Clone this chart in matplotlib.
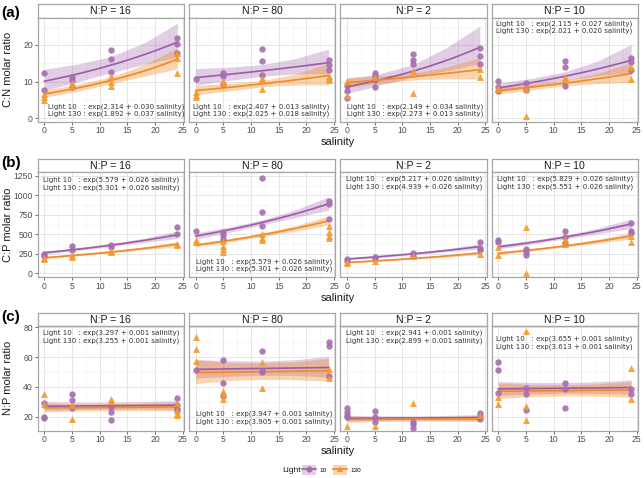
import matplotlib.pyplot as plt
import numpy as np
from matplotlib.patches import Patch
from matplotlib.lines import Line2D

# ---- data ----
salinity = [0, 5, 12, 24]
np_levels = [16, 80, 2, 10]
band_x = [0, 6, 12, 18, 24]

# (a) C:N molar ratio, values per salinity level
cn_l10_np16 = [[12.3, 7.8], [11.4, 10.4, 8.6], [18.5, 16.1, 12.7], [21.9, 20.4, 17.9]]
cn_l130_np16 = [[6.6, 5.8, 5.1], [9.5, 8.7], [11.5, 10.0, 8.9], [17.9, 16.4, 12.4]]
cn_l10_np80 = [[10.6], [12.4, 11.5, 9.3], [19.0, 15.6, 11.8], [15.9, 14.6, 13.2]]
cn_l130_np80 = [[7.1, 6.4, 5.9], [10.2, 9.5], [11.0, 10.5, 8.1], [11.5, 10.9, 10.4]]
cn_l10_np2 = [[8.7, 7.5, 5.6], [12.4, 11.5, 10.4, 8.6], [17.5, 15.9, 14.8], [19.1, 17.0, 14.7]]
cn_l130_np2 = [[10.3, 6.2], [11.2], [13.0, 6.8], [13.4, 11.4]]
cn_l10_np10 = [[10.2, 8.6, 7.4], [9.7, 7.7], [15.6, 13.9, 8.9], [16.5, 15.4, 13.2]]
cn_l130_np10 = [[8.2, 8.0], [8.0, 0.7], [11.2, 10.8], [14.0, 10.6]]

# (b) C:P molar ratio
cp_l10_np16 = [[248, 225], [346, 295], [365, 335], [590, 505]]
cp_l130_np16 = [[180, 200], [210, 240], [290, 278], [380, 368]]
cp_l10_np80 = [[547], [534, 491, 440], [1230, 781, 602], [931, 888, 696]]
cp_l130_np80 = [[427, 406], [418, 354, 312, 278], [504, 453, 431], [602, 525, 482, 453]]
cp_l10_np2 = [[184, 158], [214, 200], [260, 226], [406, 320, 295]]
cp_l130_np2 = [[132, 140], [158], [218], [248]]
cp_l10_np10 = [[431, 397], [312, 269, 235], [538, 461, 389], [645, 547, 517]]
cp_l130_np10 = [[333, 235], [589, 4], [440, 376], [482, 397]]

# (c) N:P molar ratio
npr_l10_np16 = [[29.4, 20.0, 19.1], [35.1, 31.0, 26.1], [26.7, 23.1, 17.8], [32.8, 27.6, 25.4, 24.5]]
npr_l130_np16 = [[35.1, 28.3], [27.9, 18.2], [31.7, 30.3], [29.0, 24.5, 22.7, 21.3]]
npr_l10_np80 = [[51.5], [58.2, 42.9, 33.9], [64.0, 50.8, 49.7], [70.3, 67.2, 47.4]]
npr_l130_np80 = [[73.3, 65.4, 57.5], [37.3, 35.1, 31.7], [56.4, 39.6], [51.9, 46.3]]
npr_l10_np2 = [[26.1, 23.1, 20.9, 20.0], [23.8, 20.0, 16.4], [16.4, 14.8, 12.6], [22.2, 20.4, 18.2]]
npr_l130_np2 = [[13.7], [13.7], [29.4], [21.3]]
npr_l10_np10 = [[56.9, 51.5, 36.2], [39.6, 35.1, 24.5], [42.5, 38.4, 26.1], [38.9, 35.1]]
npr_l130_np10 = [[33.5, 28.3], [77.8, 27.2, 17.8], [], [53.0, 31.7]]

# coefficients printed in the panels (intercept, slope)
cn_coef_l10 = [(2.314, 0.030), (2.407, 0.013), (2.149, 0.034), (2.115, 0.027)]
cn_coef_l130 = [(1.892, 0.037), (2.025, 0.018), (2.273, 0.013), (2.021, 0.020)]
cp_coef_l10 = [(5.579, 0.026), (5.579, 0.026), (5.217, 0.026), (5.829, 0.026)]
cp_coef_l130 = [(5.301, 0.026), (5.301, 0.026), (4.939, 0.026), (5.551, 0.026)]
npr_coef_l10 = [(3.297, 0.001), (3.947, 0.001), (2.941, 0.001), (3.655, 0.001)]
npr_coef_l130 = [(3.255, 0.001), (3.905, 0.001), (2.899, 0.001), (3.613, 0.001)]

# drawn curves (C:P N:P=80 panel shows a different curve than its label)
cp_line_l10 = [(5.579, 0.026), (6.17, 0.026), (5.217, 0.026), (5.829, 0.026)]
cp_line_l130 = [(5.301, 0.026), (5.89, 0.026), (4.939, 0.026), (5.551, 0.026)]

# ribbon half widths (log scale) at band_x
cn_w_l10 = [[0.28, 0.2, 0.15, 0.17, 0.22], [0.2, 0.15, 0.12, 0.15, 0.22],
            [0.23, 0.15, 0.13, 0.2, 0.26], [0.15, 0.11, 0.1, 0.15, 0.24]]
cn_w_l130 = [[0.15, 0.11, 0.09, 0.12, 0.18], [0.17, 0.12, 0.09, 0.14, 0.25],
             [0.14, 0.1, 0.08, 0.13, 0.22], [0.13, 0.09, 0.08, 0.13, 0.22]]
cp_w_l10 = [[0.08, 0.06, 0.05, 0.065, 0.095]] * 4
cp_w_l130 = [[0.07, 0.05, 0.045, 0.06, 0.085]] * 4
npr_w_l10 = [[0.11, 0.09, 0.085, 0.09, 0.11], [0.12, 0.1, 0.09, 0.1, 0.13],
             [0.1, 0.08, 0.07, 0.08, 0.1], [0.12, 0.1, 0.09, 0.1, 0.12]]
npr_w_l130 = [[0.11, 0.09, 0.085, 0.09, 0.11], [0.16, 0.12, 0.11, 0.12, 0.15],
              [0.11, 0.09, 0.08, 0.09, 0.11], [0.14, 0.11, 0.1, 0.11, 0.14]]

# ---- layout (pixels) ----
W, H = 644, 478
col_left = [37.7, 189.0, 340.3, 491.6]
panel_w = 146.2
row_top = [17.5, 172.3, 326.0]
row_bot = [121.6, 277.3, 430.7]
label_y = [12.5, 163.5, 317.5]
strip_h = 13.5
ann_pos = [[(48.3, 106.5), (193.3, 106.5), (347.3, 106.5), (496.3, 23.3)],
           [(42.7, 179.7), (195.7, 261.3), (345.7, 179.0), (497.3, 179.0)],
           [(42.7, 332.7), (195.7, 413.7), (345.7, 332.7), (495.7, 338.7)]]

purple = '#9C5BA8'
purple_pt = '#A66DB0'
orange = '#F08A24'
orange_pt = '#F39A2E'
grid_c = '#E6E6E6'
border_c = '#A6A6A6'

plt.rcParams['font.family'] = ['Liberation Sans', 'DejaVu Sans']


def box(l, t, r, b):
    return [l / W, 1 - b / H, (r - l) / W, (b - t) / H]


rows = [
    dict(label='(a)', ylabel='C:N molar ratio', ylim=(-0.9, 27.5),
         yticks=[0, 10, 20], yminor=[5, 15, 25],
         data=[(cn_l10_np16, cn_l130_np16), (cn_l10_np80, cn_l130_np80),
               (cn_l10_np2, cn_l130_np2), (cn_l10_np10, cn_l130_np10)],
         coef=(cn_coef_l10, cn_coef_l130), line=(cn_coef_l10, cn_coef_l130),
         w=(cn_w_l10, cn_w_l130)),
    dict(label='(b)', ylabel='C:P molar ratio', ylim=(-51, 1297),
         yticks=[0, 250, 500, 750, 1000, 1250], yminor=[125, 375, 625, 875, 1125],
         data=[(cp_l10_np16, cp_l130_np16), (cp_l10_np80, cp_l130_np80),
               (cp_l10_np2, cp_l130_np2), (cp_l10_np10, cp_l130_np10)],
         coef=(cp_coef_l10, cp_coef_l130), line=(cp_line_l10, cp_line_l130),
         w=(cp_w_l10, cp_w_l130)),
    dict(label='(c)', ylabel='N:P molar ratio', ylim=(10.6, 80.9),
         yticks=[20, 40, 60, 80], yminor=[30, 50, 70],
         data=[(npr_l10_np16, npr_l130_np16), (npr_l10_np80, npr_l130_np80),
               (npr_l10_np2, npr_l130_np2), (npr_l10_np10, npr_l130_np10)],
         coef=(npr_coef_l10, npr_coef_l130), line=(npr_coef_l10, npr_coef_l130),
         w=(npr_w_l10, npr_w_l130)),
]

fig = plt.figure(figsize=(W / 100, H / 100), dpi=100)
xs = np.linspace(0, 24, 49)
bx = np.array(band_x)

for r, row in enumerate(rows):
    t, b = row_top[r], row_bot[r]
    for c in range(4):
        l = col_left[c]
        # strip
        sax = fig.add_axes(box(l, t - strip_h, l + panel_w, t))
        sax.set_xticks([])
        sax.set_yticks([])
        sax.set_facecolor('white')
        for s in sax.spines.values():
            s.set_color(border_c)
            s.set_linewidth(0.9)
        sax.text(0.5, 0.45, 'N:P = %d' % np_levels[c], ha='center', va='center',
                 fontsize=7.6, color='#1A1A1A', transform=sax.transAxes)

        ax = fig.add_axes(box(l, t, l + panel_w, b))
        ax.set_xlim(-1.2, 25.2)
        ax.set_ylim(*row['ylim'])
        ax.set_xticks([0, 5, 10, 15, 20, 25])
        ax.set_xticks([2.5, 7.5, 12.5, 17.5, 22.5], minor=True)
        ax.set_yticks(row['yticks'])
        ax.set_yticks(row['yminor'], minor=True)
        ax.grid(True, which='major', color=grid_c, lw=0.7, zorder=0)
        ax.grid(True, which='minor', color='#F2F2F2', lw=0.45, zorder=0)
        ax.set_axisbelow(True)
        ax.tick_params(which='major', length=2.2, width=0.6, color='#555555',
                       labelsize=6.2, labelcolor='#4D4D4D', pad=1.2)
        ax.tick_params(which='minor', length=0)
        if c > 0:
            ax.set_yticklabels([])
            ax.tick_params(axis='y', length=0)
        for s in ax.spines.values():
            s.set_color(border_c)
            s.set_linewidth(0.9)

        groups = [(row['data'][c][0], row['line'][0][c], row['w'][0][c], purple, purple_pt, 'o', 0.3),
                  (row['data'][c][1], row['line'][1][c], row['w'][1][c], orange, orange_pt, '^', 0.36)]
        for vals, (a0, a1), w, lc, pc, mk, al in groups:
            fit_b = np.exp(a0 + a1 * bx)
            ax.fill_between(bx, fit_b * np.exp(-np.array(w)), fit_b * np.exp(np.array(w)),
                            color=lc, alpha=al, lw=0, zorder=2)
        for vals, (a0, a1), w, lc, pc, mk, al in groups:
            ax.plot(xs, np.exp(a0 + a1 * xs), color=lc, lw=1.2, zorder=3)
        for vals, (a0, a1), w, lc, pc, mk, al in groups:
            px, py = [], []
            for s_val, ys in zip(salinity, vals):
                px += [s_val] * len(ys)
                py += ys
            ax.scatter(px, py, s=21 if mk == 'o' else 25, marker=mk, color=pc,
                       alpha=0.9, lw=0, zorder=4, clip_on=False)

        # equation labels
        (p0, p1) = row['coef'][0][c]
        (q0, q1) = row['coef'][1][c]
        ax_x, ax_y = ann_pos[r][c]
        fig.text(ax_x / W, 1 - ax_y / H, 'Light 10   : exp(%.3f + %.3f salinity)' % (p0, p1),
                 fontsize=5.0, family='DejaVu Sans', color='#333333', va='center', ha='left')
        fig.text(ax_x / W, 1 - (ax_y + 7.6) / H, 'Light 130 : exp(%.3f + %.3f salinity)' % (q0, q1),
                 fontsize=5.0, family='DejaVu Sans', color='#333333', va='center', ha='left')

    # row labels
    fig.text(8.5 / W, 1 - (t + b) / 2 / H, row['ylabel'], rotation=90, fontsize=8,
             color='#1A1A1A', ha='center', va='center')
    fig.text(1 / W, 1 - label_y[r] / H, row['label'], fontsize=11, fontweight='bold',
             ha='left', va='center')
    fig.text(337.8 / W, 1 - (b + 20.5) / H, 'salinity', fontsize=8, color='#1A1A1A',
             ha='center', va='center')

# legend
fig.text(282 / W, 1 - 470 / H, 'Light', fontsize=6.1, color='#1A1A1A', ha='left', va='center')
h10 = (Patch(facecolor=purple, alpha=0.3, lw=0),
       Line2D([], [], color=purple, lw=1.2, marker='o', markersize=4.4,
              markerfacecolor=purple_pt, markeredgewidth=0))
h130 = (Patch(facecolor=orange, alpha=0.36, lw=0),
        Line2D([], [], color=orange, lw=1.2, marker='^', markersize=4.8,
               markerfacecolor=orange_pt, markeredgewidth=0))
fig.legend([h10, h130], ['10', '130'], loc='center left',
           bbox_to_anchor=(302 / W, 1 - 470 / H), ncol=2, frameon=False,
           fontsize=4.6, handlelength=2.2, handleheight=2.0, handletextpad=0.6,
           columnspacing=0.9, borderpad=0, borderaxespad=0)

fig.savefig('out.png', dpi=100, facecolor='white')
